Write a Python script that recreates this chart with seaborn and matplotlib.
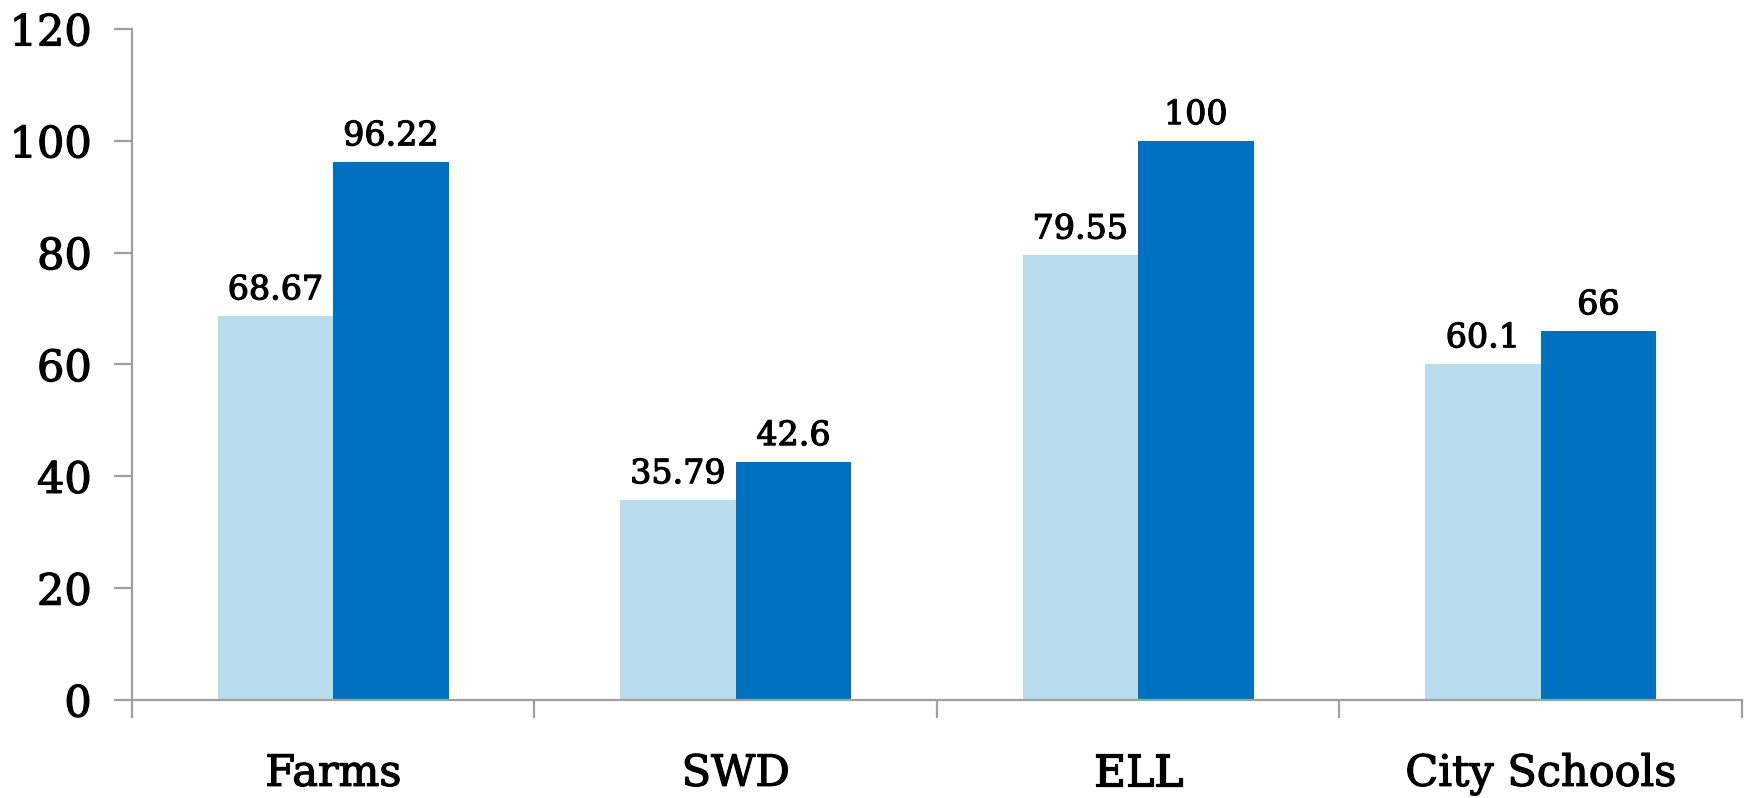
import matplotlib
matplotlib.use("Agg")
import matplotlib.pyplot as plt
import matplotlib.patheffects as pe
from matplotlib.ticker import FixedLocator, NullFormatter
import seaborn as sns
import pandas as pd

categories = ["Farms", "SWD", "ELL", "City Schools"]
series_names = ["Series A", "Series B"]
values_a = [68.67, 35.79, 79.55, 60.1]
values_b = [96.22, 42.6, 100, 66]
label_a = ["68.67", "35.79", "79.55", "60.1"]
label_b = ["96.22", "42.6", "100", "66"]
y_ticks = [0, 20, 40, 60, 80, 100, 120]

df = pd.DataFrame({
    "category": categories * 2,
    "series": [series_names[0]] * 4 + [series_names[1]] * 4,
    "value": values_a + values_b,
})

sns.set_style("white")
plt.rcParams["font.family"] = ["DejaVu Serif"]

# slightly heavier strokes for all text
heavy = [pe.withStroke(linewidth=0.9, foreground="black")]

fig = plt.figure(figsize=(17.53, 7.98), dpi=100)
ax = fig.add_axes([0.0753, 0.1228, 0.9184, 0.8409])

palette = {series_names[0]: "#B8DCEB", series_names[1]: "#0070C0"}
sns.barplot(data=df, x="category", y="value", hue="series", order=categories,
            hue_order=series_names, palette=palette, width=0.574,
            saturation=1, legend=False, ax=ax, edgecolor="none", linewidth=0)

for cont, labels in zip(ax.containers, [label_a, label_b]):
    texts = ax.bar_label(cont, labels=labels, padding=7, fontsize=24, color="black")
    for t in texts:
        t.set_path_effects(heavy)

ax.set_ylim(0, 120)
ax.set_xlim(-0.5, 3.5)
ax.set_yticks(y_ticks)
ax.set_yticklabels([str(t) for t in y_ticks], fontsize=31, color="black")

# category boundaries carry the tick marks, labels sit centred between them
ax.xaxis.set_major_locator(FixedLocator([-0.5, 0.5, 1.5, 2.5, 3.5]))
ax.xaxis.set_major_formatter(NullFormatter())
ax.xaxis.set_minor_locator(FixedLocator([0, 1, 2, 3]))
ax.set_xticklabels(categories, minor=True, fontsize=31, color="black")
ax.tick_params(axis="x", which="minor", bottom=True, length=0, pad=38)
ax.tick_params(axis="x", which="major", bottom=True, length=13, width=1.6,
               color="#A0A0A0", direction="out")
ax.tick_params(axis="y", left=True, length=13, width=1.6, color="#A0A0A0",
               direction="out", pad=16)

for t in ax.get_yticklabels() + ax.get_xticklabels(minor=True):
    t.set_path_effects(heavy)

ax.set_xlabel("")
ax.set_ylabel("")
for side in ["top", "right"]:
    ax.spines[side].set_visible(False)
for side in ["left", "bottom"]:
    ax.spines[side].set_color("#A0A0A0")
    ax.spines[side].set_linewidth(1.6)

fig.savefig("out.png", dpi=100)
